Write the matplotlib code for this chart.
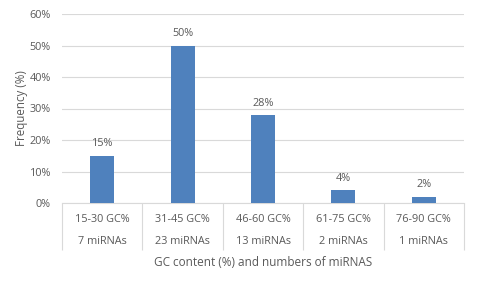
import numpy as np
import matplotlib.pyplot as plt
from matplotlib.ticker import PercentFormatter

# GC content bins and miRNA counts
gc_bins = ['15-30 GC%', '31-45 GC%', '46-60 GC%', '61-75 GC%', '76-90 GC%']
mirna_counts = ['7 miRNAs', '23 miRNAs', '13 miRNAs', '2 miRNAs', '1 miRNAs']
frequency = [15, 50, 28, 4, 2]

plt.rcParams['font.family'] = ['Open Sans', 'DejaVu Sans']
text_col = '#595959'
grid_col = '#d9d9d9'

fig = plt.figure(figsize=(4.8, 2.84), dpi=100)
ax = fig.add_axes([62 / 480, 1 - 203 / 284, 402 / 480, 189 / 284])

x = np.arange(len(frequency))
bars = ax.bar(x, frequency, width=0.3, color='#4f81bd', zorder=3)
for xi, v in zip(x, frequency):
    ax.text(xi, v + 2, f'{v}%', ha='center', va='bottom', fontsize=7.8, color=text_col)

ax.set_xlim(-0.5, len(frequency) - 0.5)
ax.set_ylim(0, 60)
ax.set_yticks(np.arange(0, 61, 10))
ax.yaxis.set_major_formatter(PercentFormatter(decimals=0))
ax.grid(axis='y', color=grid_col, linewidth=0.8, zorder=0)

labels = [f'{a}\n{b}' for a, b in zip(gc_bins, mirna_counts)]
ax.set_xticks(x)
ax.set_xticklabels(labels, linespacing=2.3)
ax.set_xticks(np.arange(-0.5, len(frequency)), minor=True)
ax.tick_params(axis='x', which='major', length=0, pad=8, labelsize=7.8, labelcolor=text_col)
ax.tick_params(axis='x', which='minor', length=34, color=grid_col, width=0.8)
ax.tick_params(axis='y', length=0, pad=8, labelsize=7.8, labelcolor=text_col)

for s in ['top', 'right', 'left']:
    ax.spines[s].set_visible(False)
ax.spines['bottom'].set_color(grid_col)
ax.spines['bottom'].set_linewidth(0.8)

ax.set_xlabel('GC content (%) and numbers of miRNAS', fontsize=8.5, color=text_col, labelpad=1)
ax.set_ylabel('Frequency (%)', fontsize=8.3, color=text_col, labelpad=1)

fig.savefig('out.png', dpi=100)
